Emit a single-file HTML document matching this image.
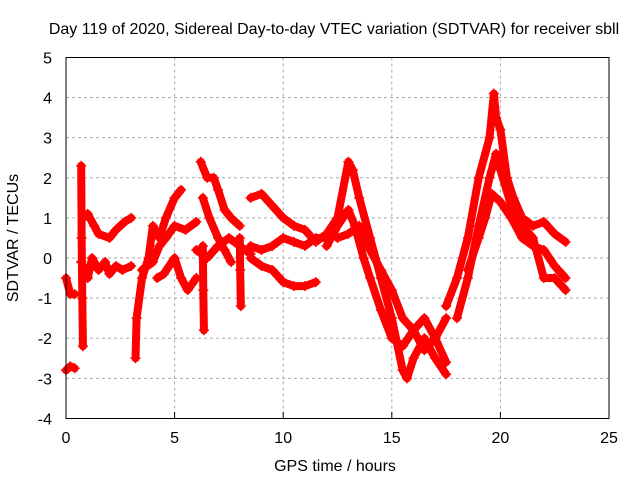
<!DOCTYPE html>
<html><head><meta charset="utf-8"><style>
body{margin:0;background:#fff}
svg{display:block}
text{font-family:"Liberation Sans",sans-serif;font-size:16px;fill:#000}
</style></head><body>
<svg id="c" width="640" height="480">
<text x="334" y="34" text-anchor="middle">Day 119 of 2020, Sidereal Day-to-day VTEC variation (SDTVAR) for receiver sbll</text>
<text x="0" y="0" transform="translate(18,238) rotate(-90)" text-anchor="middle">SDTVAR / TECUs</text>
<text x="335" y="471" text-anchor="middle">GPS time / hours</text>
<g id="grid"></g><g id="marks"></g>
<rect x="66" y="57.5" width="543" height="361" fill="none" stroke="#000" stroke-width="1"/>
</svg>
<script>
const xTicks=[0,5,10,15,20,25];
const yTicks=[-4,-3,-2,-1,0,1,2,3,4,5];
const tracks=[
[[0,-0.5],[0.2,-0.9],[0.4,-0.9]],
[[0,-2.8],[0.2,-2.7],[0.4,-2.75]],
[[0.7,2.3],[0.72,0.5],[0.75,-1],[0.78,-2.2]],
[[0.8,1.0],[1.0,1.1],[1.3,0.8],[1.5,0.6],[2.0,0.5],[2.3,0.7],[2.7,0.9],[3.0,1.0]],
[[0.7,-0.1],[1.0,-0.5],[1.2,0.0],[1.5,-0.3],[1.8,-0.1],[2.0,-0.4],[2.3,-0.2],[2.6,-0.3],[3.0,-0.2]],
[[3.2,-2.5],[3.25,-1.5],[3.5,-0.5],[3.8,0],[4.0,0.8],[4.3,0.5],[4.6,1.0],[5.0,1.5],[5.3,1.7]],
[[3.5,-0.3],[4.0,-0.1],[4.3,0.3],[4.6,0.5],[5.0,0.8],[5.5,0.7],[6.0,0.9]],
[[4.2,-0.5],[4.5,-0.4],[5.0,0.0],[5.3,-0.5],[5.6,-0.8],[6.0,-0.5]],
[[6.2,2.4],[6.5,2.0],[6.8,2.0],[7.0,1.7],[7.3,1.2],[7.6,1.0],[8.0,0.8]],
[[6.0,0.2],[6.5,0.0],[7.0,0.3],[7.5,0.5],[8.0,0.3],[8.5,0.1]],
[[6.3,1.5],[6.6,1.0],[7.0,0.5],[7.3,0.2],[7.6,-0.1]],
[[6.3,0.3],[6.32,-0.8],[6.35,-1.8]],
[[8.0,0.5],[8.02,-0.3],[8.05,-1.2]],
[[8.5,1.5],[9.0,1.6],[9.5,1.3],[10,1.0],[10.5,0.8],[11,0.7],[11.5,0.4],[12,0.6]],
[[8.5,0.3],[9,0.2],[9.5,0.3],[10,0.5],[10.5,0.4],[11,0.3],[11.5,0.5],[12,0.5]],
[[8.5,0.0],[9,-0.2],[9.5,-0.3],[10,-0.6],[10.5,-0.7],[11,-0.7],[11.5,-0.6]],
[[12,0.6],[12.5,1.0],[13,2.4],[13.2,2.2],[13.5,1.5],[14,0.5],[14.5,-0.5],[15,-1.5],[15.5,-2.8],[15.7,-3.0],[16,-2.5],[16.5,-2.0],[17,-2.5],[17.5,-2.9]],
[[12,0.3],[12.5,0.8],[13,1.2],[13.3,0.8],[13.7,0.0],[14,-0.5],[14.5,-1.3],[15,-2.0],[15.5,-2.2],[16,-1.8],[16.5,-2.3],[17,-2.0],[17.5,-1.5]],
[[12.5,0.5],[13,0.6],[13.5,0.8],[14,0.2],[14.5,-0.3],[15,-0.8],[15.5,-1.5],[16,-1.8],[16.5,-1.5],[17,-2.0],[17.5,-2.6]],
[[17.5,-1.2],[18,-0.5],[18.5,0.5],[19,2.0],[19.5,3.0],[19.7,4.1],[19.8,3.5],[20,3.2],[20.3,2.0],[20.6,1.5],[21,1.0],[21.5,0.8],[22,0.9],[22.5,0.6],[23,0.4]],
[[18.5,-0.3],[19,0.5],[19.3,1.0],[19.6,1.6],[20,1.4],[20.5,1.0],[21,0.5],[21.5,0.3],[22,0.2],[22.5,-0.2],[23,-0.5]],
[[18,-1.5],[18.5,-0.5],[19,0.8],[19.5,2.0],[19.8,2.6],[20,2.2],[20.5,1.3],[21,0.8],[21.5,0.5],[22,-0.5],[22.5,-0.5],[23,-0.8]]
];
const NS='http://www.w3.org/2000/svg';
const X=v=>66+v*543/25, Y=v=>258-v*40.11;
const grid=document.getElementById('grid'), marks=document.getElementById('marks'), svg=document.getElementById('c');
function mk(tag,attrs,parent){const e=document.createElementNS(NS,tag);for(const k in attrs)e.setAttribute(k,attrs[k]);parent.appendChild(e);return e;}
xTicks.forEach(t=>{
 if(t>0&&t<25){const l=mk('line',{x1:X(t),x2:X(t),y1:57.5,y2:418.5,stroke:'#aaa','stroke-dasharray':'3,3'},grid);
 
 }
 const tk=mk('line',{x1:X(t),x2:X(t),y1:418.5,y2:412,stroke:'#000'},grid);
 
 
 const tx=mk('text',{x:X(t),y:443,'text-anchor':'middle'},svg);tx.textContent=t;
 
 
});
yTicks.forEach(t=>{
 if(t>-4&&t<5){const l=mk('line',{x1:66,x2:609,y1:Y(t),y2:Y(t),stroke:'#aaa','stroke-dasharray':'3,3'},grid);
 
 }
 const tx=mk('text',{x:52,y:Y(t)+6,'text-anchor':'end'},svg);tx.textContent=t;
 
 
});
tracks.forEach(tr=>{
 const p=mk('polyline',{points:tr.map(d=>X(d[0])+','+Y(d[1])).join(' '),fill:'none',stroke:'#f00','stroke-width':8,'stroke-linejoin':'round','stroke-linecap':'round'},marks);
 
 
 tr.forEach(d=>{
  const m=mk('path',{d:`M${X(d[0])-5},${Y(d[1])}h10M${X(d[0])},${Y(d[1])-5}v10`,stroke:'#f00','stroke-width':1.5},marks);
  
  
 });
});
</script>
</body></html>
